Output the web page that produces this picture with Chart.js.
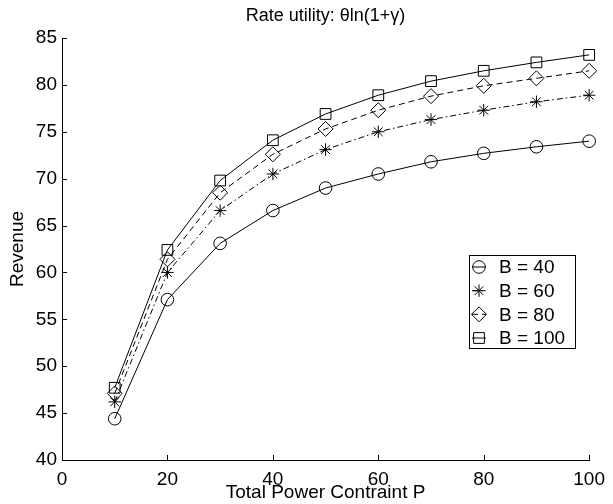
<!DOCTYPE html>
<html>
<head>
<meta charset="utf-8">
<script src="https://cdn.jsdelivr.net/npm/chart.js@4/dist/chart.umd.min.js"></script>
<style>
  html, body { margin: 0; padding: 0; background: #fff; }
  #wrap { width: 613px; height: 504px; }
</style>
</head>
<body>
<div id="wrap"><canvas id="c" width="613" height="504"></canvas></div>
<script>
const powerP = [10, 20, 30, 40, 50, 60, 70, 80, 90, 100];
const revB40 = [44.4, 57.1, 63.1, 66.6, 69.0, 70.5, 71.8, 72.7, 73.4, 74.0];
const revB60 = [46.2, 60.0, 66.6, 70.5, 73.1, 75.0, 76.3, 77.3, 78.2, 78.9];
const revB80 = [47.1, 61.4, 68.5, 72.6, 75.3, 77.3, 78.8, 79.9, 80.7, 81.5];
const revB100 = [47.7, 62.4, 69.8, 74.1, 76.9, 78.9, 80.4, 81.5, 82.4, 83.2];
const seriesLabels = ['B = 40', 'B = 60', 'B = 80', 'B = 100'];
const xTickValues = [0, 20, 40, 60, 80, 100];
const yTickValues = [40, 45, 50, 55, 60, 65, 70, 75, 80, 85];
const chartTitle = 'Rate utility: θln(1+γ)';

const FONT = '"Liberation Sans", Arial, Helvetica, sans-serif';

const styles = [
  { pointStyle: 'circle', radius: 6.3, dash: [] },
  { pointStyle: 'star', radius: 6.2, dash: [6, 3, 1.5, 3] },
  { pointStyle: 'rectRot', radius: 7.5, dash: [6, 4] },
  { pointStyle: 'rect', radius: 7.6, dash: [] }
];
const allSeries = [revB40, revB60, revB80, revB100];

const datasets = allSeries.map((vals, i) => ({
  label: seriesLabels[i],
  data: powerP.map((p, j) => ({ x: p, y: vals[j] })),
  borderColor: '#000',
  borderWidth: 1,
  borderDash: styles[i].dash,
  pointStyle: styles[i].pointStyle,
  pointRadius: styles[i].radius,
  pointBorderColor: '#000',
  pointBackgroundColor: 'rgba(0,0,0,0)',
  pointBorderWidth: 1,
  fill: false,
  tension: 0,
  clip: false
}));

function drawMarker(ctx, style, r, x, y) {
  if (Chart.helpers && Chart.helpers.drawPoint) {
    Chart.helpers.drawPoint(ctx, { pointStyle: style, radius: r, borderWidth: 1, rotation: 0 }, x, y);
    return;
  }
  ctx.beginPath();
  if (style === 'circle') ctx.arc(x, y, r, 0, Math.PI * 2);
  else if (style === 'rect') { const s = r * Math.SQRT1_2; ctx.rect(x - s, y - s, 2 * s, 2 * s); }
  else if (style === 'rectRot') { ctx.moveTo(x - r, y); ctx.lineTo(x, y - r); ctx.lineTo(x + r, y); ctx.lineTo(x, y + r); ctx.closePath(); }
  else if (style === 'star') {
    const d = r * Math.SQRT1_2;
    ctx.moveTo(x - r, y); ctx.lineTo(x + r, y); ctx.moveTo(x, y - r); ctx.lineTo(x, y + r);
    ctx.moveTo(x - d, y - d); ctx.lineTo(x + d, y + d); ctx.moveTo(x - d, y + d); ctx.lineTo(x + d, y - d);
  }
  ctx.stroke();
}

const decorPlugin = {
  id: 'decor',
  afterDraw(chart) {
    const ctx = chart.ctx;
    const xs = chart.scales.x, ys = chart.scales.y;
    const area = chart.chartArea;
    ctx.save();
    ctx.strokeStyle = '#000';
    ctx.lineWidth = 1;
    ctx.setLineDash([]);
    // title centred over plot area
    ctx.fillStyle = '#000';
    ctx.font = '18px ' + FONT;
    ctx.textAlign = 'center';
    ctx.textBaseline = 'alphabetic';
    ctx.fillText(chartTitle, (area.left + area.right) / 2, 20.5);
    // inward ticks
    ctx.beginPath();
    yTickValues.forEach(v => {
      const py = Math.round(ys.getPixelForValue(v)) + 0.5;
      ctx.moveTo(area.left, py); ctx.lineTo(area.left + 5, py);
    });
    xTickValues.forEach(v => {
      const px = Math.round(xs.getPixelForValue(v)) + 0.5;
      ctx.moveTo(px, area.bottom); ctx.lineTo(px, area.bottom - 5);
    });
    ctx.stroke();

    // legend box
    const bx = 469.5, by = 255.5, bw = 106, bh = 93;
    ctx.fillStyle = '#fff';
    ctx.fillRect(bx, by, bw, bh);
    ctx.strokeRect(bx, by, bw, bh);
    const rowY = [267, 290.7, 314.3, 338];
    ctx.font = '19px ' + FONT;
    ctx.textBaseline = 'middle';
    ctx.textAlign = 'left';
    seriesLabels.forEach((lab, i) => {
      const y = rowY[i];
      ctx.beginPath();
      ctx.setLineDash(styles[i].dash);
      ctx.moveTo(472, y); ctx.lineTo(486, y);
      ctx.stroke();
      ctx.setLineDash([]);
      ctx.strokeStyle = '#000';
      ctx.fillStyle = 'rgba(0,0,0,0)';
      drawMarker(ctx, styles[i].pointStyle, styles[i].radius, 479, y);
      ctx.fillStyle = '#000';
      ctx.fillText(lab, 499, y + 1);
    });
    ctx.restore();
  }
};

new Chart(document.getElementById('c'), {
  type: 'line',
  data: { datasets },
  options: {
    responsive: false,
    animation: false,
    devicePixelRatio: 1,
    layout: { padding: { left: 0, right: 15, top: 38, bottom: 0 } },
    plugins: {
      legend: { display: false },
      tooltip: { enabled: false },
      title: { display: false }
    },
    scales: {
      x: {
        type: 'linear',
        min: 0, max: 100,
        afterBuildTicks: s => { s.ticks = xTickValues.map(v => ({ value: v })); },
        afterFit: s => { s.height = 44; },
        grid: { display: false, drawTicks: false },
        border: { display: true, color: '#000', width: 1 },
        ticks: { color: '#000', font: { family: FONT, size: 19 }, padding: 8, maxRotation: 0 },
        title: { display: true, text: 'Total Power Contraint P', color: '#000', font: { family: FONT, size: 19 }, padding: { top: 0, bottom: 0 } }
      },
      y: {
        min: 40, max: 85,
        afterBuildTicks: s => { s.ticks = yTickValues.map(v => ({ value: v })); },
        afterFit: s => { s.width = 62; },
        grid: { display: false, drawTicks: false },
        border: { display: true, color: '#000', width: 1 },
        ticks: { color: '#000', font: { family: FONT, size: 19 }, padding: 5 },
        title: { display: true, text: 'Revenue', color: '#000', font: { family: FONT, size: 19 }, padding: { top: 6, bottom: 0 } }
      }
    }
  },
  plugins: [decorPlugin]
});
</script>
</body>
</html>
